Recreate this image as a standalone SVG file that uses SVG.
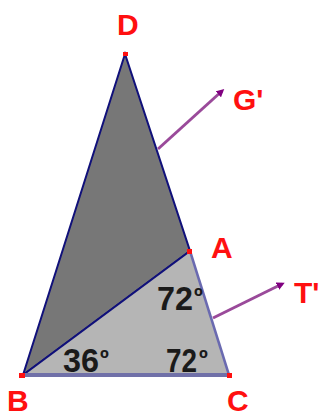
<svg xmlns="http://www.w3.org/2000/svg" width="321" height="417" viewBox="0 0 321 417">
<style>
.lbl{font-family:"Liberation Sans",Arial,sans-serif;font-weight:bold;fill:#ff1010;font-size:30px}
.ang{font-family:"Liberation Sans",Arial,sans-serif;font-weight:bold;fill:#1a1a1a;font-size:33px}
.deg{font-family:"Liberation Sans",Arial,sans-serif;font-weight:bold;fill:#1a1a1a;font-size:24px}
.pt{fill:#ff1010}
.arr{stroke:#9a4a9a;stroke-width:3;fill:none;marker-end:url(#ah)}
</style>
<defs>
<marker id="ah" markerWidth="8" markerHeight="8" refX="5" refY="4" orient="auto" markerUnits="userSpaceOnUse">
<path d="M0,0 L8,4 L0,8 z" fill="#800080"/>
</marker>
</defs>
<g id="triangle-dba">
<polygon points="125,54 23,375 190,251" fill="#777777" stroke="#10107a" stroke-width="2"/>
</g>
<g id="triangle-bac">
<polygon points="23,375 190,251 229,375" fill="#b5b5b5" stroke="none"/>
<line x1="23" y1="375" x2="190" y2="251" stroke="#10107a" stroke-width="2"/>
<line x1="190" y1="251" x2="229" y2="375" stroke="#6a6ab0" stroke-width="2.5"/>
<line x1="23" y1="375" x2="229" y2="375" stroke="#7070a8" stroke-width="4"/>
</g>
<g id="connectors">
<line class="arr" x1="158" y1="149" x2="222" y2="91"/>
<line class="arr" x1="213" y1="318" x2="282" y2="284"/>
</g>
<g id="D"><rect class="pt" x="123" y="52" width="5" height="4"/><text class="lbl" x="117" y="35">D</text></g>
<g id="A"><rect class="pt" x="187" y="249" width="5" height="5"/><text class="lbl" x="211" y="258">A</text></g>
<g id="B"><rect class="pt" x="19" y="373" width="6" height="5"/><text class="lbl" x="7" y="411">B</text></g>
<g id="C"><rect class="pt" x="227" y="373" width="5" height="5"/><text class="lbl" x="227" y="411">C</text></g>
<g id="G"><text class="lbl" x="233" y="110">G'</text></g>
<g id="T"><text class="lbl" x="294" y="303">T'</text></g>
<g id="angles">
<text class="ang" x="63" y="372" textLength="36" lengthAdjust="spacingAndGlyphs">36</text><text class="deg" x="100" y="367">º</text>
<text class="ang" x="166" y="372" textLength="31" lengthAdjust="spacingAndGlyphs">72</text><text class="deg" x="199" y="367">º</text>
<text class="ang" x="157" y="310" textLength="36" lengthAdjust="spacingAndGlyphs">72</text><text class="deg" x="194" y="305">º</text>
</g>
</svg>
